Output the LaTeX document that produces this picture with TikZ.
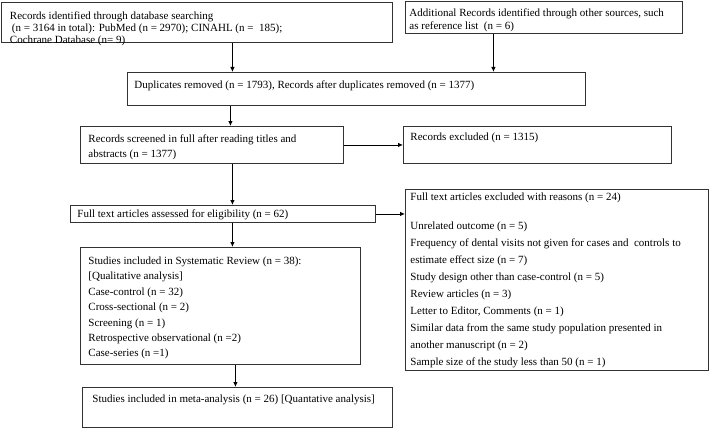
\documentclass[tikz,border=0pt]{standalone}
\usepackage{fontspec}
\setmainfont{Liberation Serif}
\usetikzlibrary{arrows.meta}
\def\boxtext#1#2#3{\parbox[t][#2pt][t]{#1pt}{#3}}
\tikzset{
	box/.style={draw=black!80, line width=0.9pt, anchor=north west, inner ysep=#1, font=\fontsize{11}{15.4}\selectfont},
	box/.default=7.5pt,
	arr/.style={-{Latex[length=5pt,width=4.5pt]}, line width=0.9pt},
}

\begin{document}
\begin{tikzpicture}[x=1pt, y=-1pt]
		%%%%% START %%%%%
		\useasboundingbox (0,0) rectangle (709,428);
		
		\node[box=9.5pt, inner xsep=8.5pt, font=\fontsize{11}{11.7}\selectfont] (db) at (1,2)
			{\boxtext{374}{21}{Records identified through database searching\\
			\hspace*{2pt}(n = 3164 in total): PubMed (n = 2970); CINAHL (n =\ \ 185);\\
			Cochrane Database (n= 9)}};
		\node[box, inner xsep=4pt, font=\fontsize{11}{12.7}\selectfont] (other) at (405,1)
			{\boxtext{269}{17}{Additional Records identified through other sources, such\\
			as reference list\ \ (n = 6)}};
		
		\node[box=8pt, inner xsep=7pt] (dup) at (127,72)
			{\boxtext{444}{17}{Duplicates removed (n = 1793), Records after duplicates removed (n = 1377)}};
		
		\node[box=8.5pt, inner xsep=8pt, font=\fontsize{11}{15}\selectfont] (screen) at (80,126)
			{\boxtext{247}{20}{Records screened in full after reading titles and\\
			abstracts (n = 1377)}};
		\node[box=6.5pt, inner xsep=7pt] (excl) at (403,126)
			{\boxtext{254}{24}{Records excluded (n = 1315)}};
		
		\node[box=4pt, inner xsep=7pt] (full) at (70,205)
			{\boxtext{291}{9}{Full text articles assessed for eligibility (n = 62)}};
		\node[box=3.5pt, inner xsep=5pt, font=\fontsize{11}{17}\selectfont] (reasons) at (405,189)
			{\boxtext{293}{174}{Full text articles excluded with reasons (n = 24)\\[12pt]
			Unrelated outcome (n = 5)\\
			Frequency of dental visits not given for cases and\ \ controls to\\
			estimate effect size (n = 7)\\
			Study design other than case-control (n = 5)\\
			Review articles (n = 3)\\
			Letter to Editor, Comments (n = 1)\\
			Similar data from the same study population presented in\\
			another manuscript (n = 2)\\
			Sample size of the study less than 50 (n = 1)}};
		
		\node[box=9.5pt, inner xsep=8pt] (incl) at (80,247)
			{\boxtext{264}{98}{Studies included in Systematic Review (n = 38):\\
			{[}Qualitative analysis{]}\\
			Case-control (n = 32)\\
			Cross-sectional (n = 2)\\
			Screening (n = 1)\\
			Retrospective observational (n =2)\\
			Case-series (n =1)}};
		
		\node[box, inner xsep=10pt] (meta) at (82,387)
			{\boxtext{290}{25}{Studies included in meta-analysis (n = 26) [Quantative analysis]}};
		
		% connectors
		\draw[arr] ([xshift=35.5pt]db.south) -- ([xshift=35.5pt]db.south |- dup.north);
		\draw[arr] ([xshift=-50.5pt]other.south) -- ([xshift=-50.5pt]other.south |- dup.north);
		\draw[arr] ([xshift=18.5pt]screen.north |- dup.south) -- ([xshift=18.5pt]screen.north);
		\draw[arr] (screen.east) -- (screen.east -| excl.west);
		\draw[arr] ([xshift=20.5pt]screen.south) -- ([xshift=20.5pt]screen.south |- full.north);
		\draw[arr] (full.east) -- (full.east -| reasons.west);
		\draw[arr] ([xshift=12pt]incl.north |- full.south) -- ([xshift=12pt]incl.north);
		\draw[arr] ([xshift=15pt]incl.south) -- ([xshift=15pt]incl.south |- meta.north);
		
		%%%%% END %%%%%
	\end{tikzpicture}
\end{document}
